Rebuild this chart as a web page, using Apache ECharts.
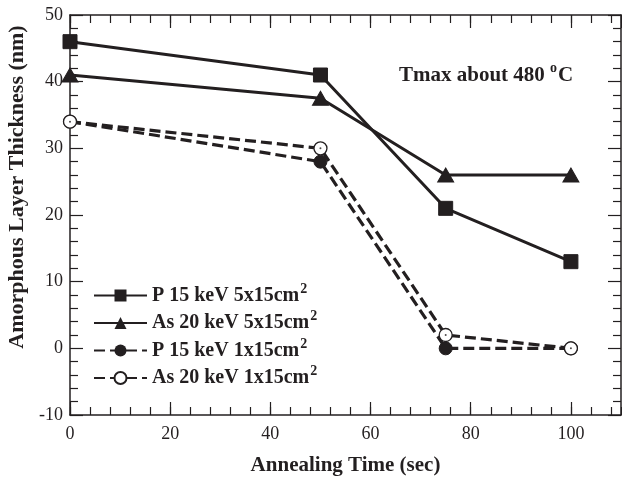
<!DOCTYPE html>
<html>
<head>
<meta charset="utf-8">
<script src="https://cdn.jsdelivr.net/npm/echarts@6/dist/echarts.min.js"></script>
<style>
  html, body { margin: 0; padding: 0; background: #fff; }
  #main { width: 622px; height: 481px; }
</style>
</head>
<body>
<div id="main"></div>
<script>
// annealing time (sec)
var timeSec = [0, 50, 75, 100];
// amorphous layer thickness (nm)
var p15_5x15 = [46, 41, 21, 13];
var as20_5x15 = [41, 37.5, 26, 26];
var p15_1x15 = [34, 28, 0, 0];
var as20_1x15 = [34, 30, 2, 0];

var seriesNames = ['P 15 keV 5x15cm2', 'As 20 keV 5x15cm2', 'P 15 keV 1x15cm2', 'As 20 keV 1x15cm2'];

var ink = '#231f20';
var serif = '"Liberation Serif", "DejaVu Serif", serif';

function pairs(vals) {
    return timeSec.map(function (t, i) { return [t, vals[i]]; });
}

var myChart = echarts.init(document.getElementById('main'), null, { renderer: 'canvas' });

// shared bits for the framed axes (ticks point inward on all 4 sides)
function frameAxis(extra) {
    var base = {
        type: 'value',
        axisLine: { show: true, onZero: false, lineStyle: { color: ink, width: 1.5 } },
        axisTick: { show: true, inside: true, length: 13, lineStyle: { color: ink, width: 1.2 } },
        axisLabel: { show: false },
        splitLine: { show: false },
        minorTick: { show: false }
    };
    return Object.assign(base, extra);
}

var minorTicks = { show: true, inside: true, length: 8, lineStyle: { color: ink, width: 1.2 } };

var option = {
    backgroundColor: '#fff',
    animation: false,
    grid: { left: 70, right: 1, top: 15, bottom: 66, containLabel: false },
    xAxis: [
        frameAxis({
            position: 'bottom', min: 0, max: 110, interval: 20,
            name: 'Annealing Time (sec)', nameLocation: 'middle', nameGap: 40,
            nameTextStyle: { fontFamily: serif, fontWeight: 'bold', fontSize: 21, color: ink },
            axisLabel: { show: true, showMaxLabel: false, margin: 10, fontFamily: serif, fontSize: 18, color: ink }
        }),
        frameAxis({ position: 'bottom', min: 0, max: 110, interval: 4, axisLine: { show: false, onZero: false }, axisTick: minorTicks }),
        frameAxis({ position: 'top', min: 0, max: 110, interval: 20 }),
        frameAxis({ position: 'top', min: 0, max: 110, interval: 4, axisLine: { show: false, onZero: false }, axisTick: minorTicks })
    ],
    yAxis: [
        frameAxis({
            position: 'left', min: -10, max: 50, interval: 10,
            axisLabel: { show: true, margin: 7, fontFamily: serif, fontSize: 18, color: ink },
            minorTick: { show: true, splitNumber: 5, length: 8, lineStyle: { color: ink, width: 1.2 } }
        }),
        frameAxis({
            position: 'right', min: -10, max: 50, interval: 10,
            minorTick: { show: true, splitNumber: 5, length: 8, lineStyle: { color: ink, width: 1.2 } }
        })
    ],
    legend: {
        orient: 'vertical',
        left: 93,
        top: 282,
        padding: 0,
        itemWidth: 53,
        itemHeight: 15,
        itemGap: 4,
        data: seriesNames,
        formatter: function (name) {
            return '{b|' + name.replace(/cm2$/, 'cm') + '}{sup|2}';
        },
        textStyle: {
            fontFamily: serif, fontWeight: 'bold', fontSize: 20, color: ink,
            rich: {
                b: { fontFamily: serif, fontWeight: 'bold', fontSize: 20, color: ink, lineHeight: 27, verticalAlign: 'middle' },
                sup: { fontFamily: serif, fontWeight: 'bold', fontSize: 14, color: ink, lineHeight: 13, verticalAlign: 'top', padding: [0, 0, 0, 1] }
            }
        }
    },
    graphic: [
        {
            type: 'text',
            x: 17, y: 187,
            rotation: Math.PI / 2,
            style: {
                text: 'Amorphous Layer Thickness (nm)',
                font: 'bold 22px ' + serif,
                fill: ink,
                align: 'center', verticalAlign: 'middle',
                textAlign: 'center', textVerticalAlign: 'middle'
            }
        },
        {
            type: 'text',
            left: 399, top: 61,
            style: {
                text: '{b|Tmax about 480 }{sup|o}{b|C}',
                font: 'bold 21px ' + serif,
                fill: ink,
                rich: {
                    b: { font: 'bold 21px ' + serif, fill: ink, lineHeight: 30, verticalAlign: 'middle' },
                    sup: { font: 'bold 14px ' + serif, fill: ink, lineHeight: 14, verticalAlign: 'top', padding: [0, 1, 0, 0] }
                }
            }
        }
    ],
    series: [
        {
            name: seriesNames[0], type: 'line', data: pairs(p15_5x15),
            symbol: 'rect', symbolSize: 14,
            lineStyle: { color: ink, width: 3 },
            itemStyle: { color: ink, borderColor: ink }
        },
        {
            name: seriesNames[1], type: 'line', data: pairs(as20_5x15),
            symbol: 'triangle', symbolSize: [16, 14],
            lineStyle: { color: ink, width: 3 },
            itemStyle: { color: ink, borderColor: ink }
        },
        {
            name: seriesNames[2], type: 'line', data: pairs(p15_1x15),
            symbol: 'circle', symbolSize: 13,
            lineStyle: { color: ink, width: 3.2, type: [11, 5] },
            itemStyle: { color: ink, borderColor: ink }
        },
        {
            name: seriesNames[3], type: 'line', data: pairs(as20_1x15),
            symbol: 'circle', symbolSize: 13,
            lineStyle: { color: ink, width: 3.2, type: [11, 5] },
            itemStyle: { color: '#fff', borderColor: ink, borderWidth: 1.3 }
        },
        {
            // tiny centre dot inside the open circles
            name: 'dot', type: 'scatter', data: pairs(as20_1x15),
            symbol: 'circle', symbolSize: 2, z: 5,
            itemStyle: { color: ink }, silent: true
        }
    ]
};

myChart.setOption(option);
</script>
</body>
</html>
